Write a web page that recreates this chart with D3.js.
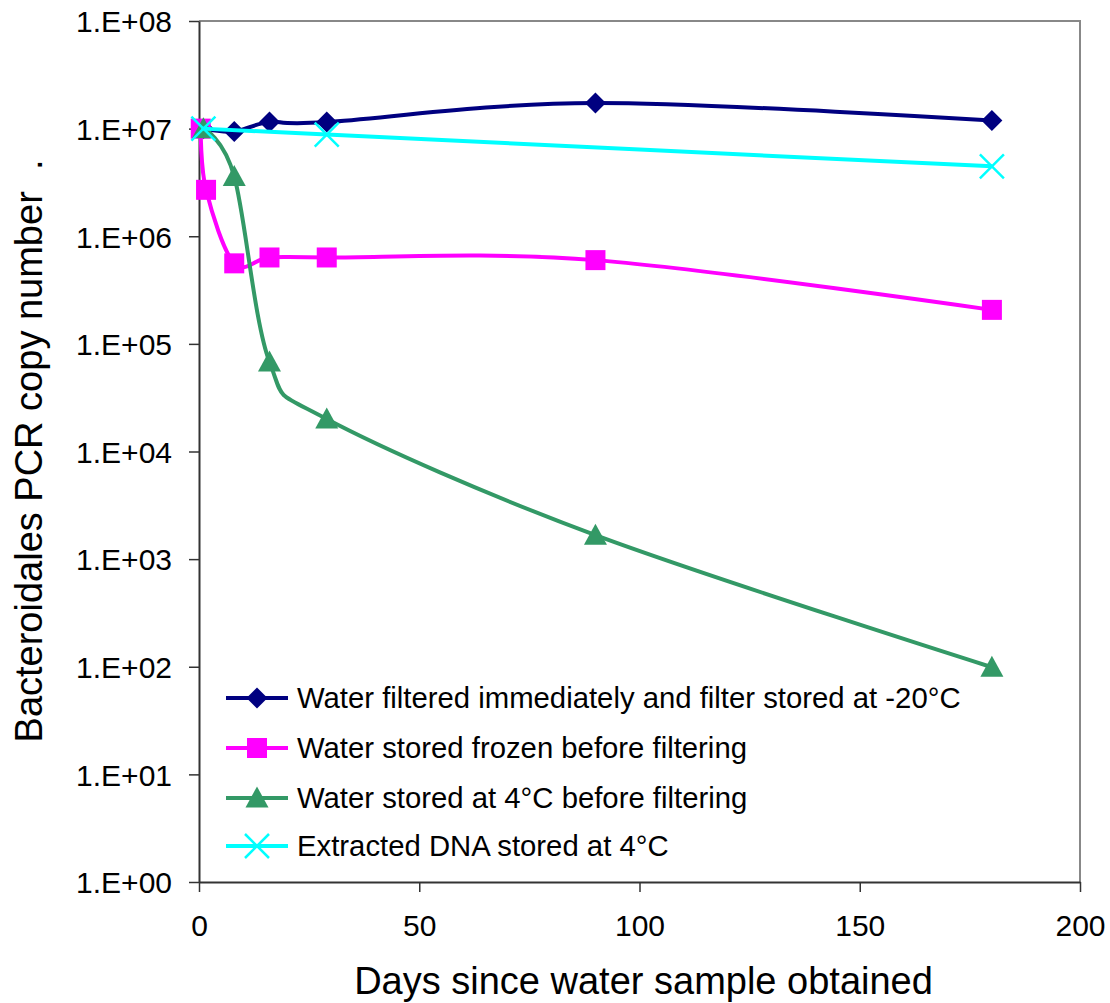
<!DOCTYPE html>
<html>
<head>
<meta charset="utf-8">
<script src="https://cdn.jsdelivr.net/npm/d3@7"></script>
<style>
  html, body { margin: 0; padding: 0; background: #fff; }
  svg { display: block; }
  text { font-family: "Liberation Sans", Arial, sans-serif; fill: #000; }
</style>
</head>
<body>
<svg id="chart" width="1110" height="1003"></svg>
<script>
// ---- data ----
const seriesNames = [
  "Water filtered immediately and filter stored at -20°C",
  "Water stored frozen before filtering",
  "Water stored at 4°C before filtering",
  "Extracted DNA stored at 4°C"
];
const seriesColors = ["#000080", "#FF00FF", "#339966", "#00FFFF"];
const seriesSymbols = ["diamond", "square", "triangle", "x"];

const filteredDays   = [1, 8, 16, 29, 90, 180];
const filteredValues = [1.0e7, 9.4e6, 1.15e7, 1.15e7, 1.73e7, 1.19e7];

const frozenDays   = [0.4, 1.6, 8, 16, 29, 90, 180];
const frozenValues = [1.0e7, 2.7e6, 5.6e5, 6.35e5, 6.35e5, 6.0e5, 2.07e5];

const fourDegDays   = [1, 8, 16, 29, 90, 180];
const fourDegValues = [1.0e7, 3.6e6, 6.8e4, 2.0e4, 1.67e3, 99];

const dnaDays   = [1, 29, 180];
const dnaValues = [1.0e7, 8.8e6, 4.46e6];

const xTicks = [0, 50, 100, 150, 200];
const yTicks = [1, 1e1, 1e2, 1e3, 1e4, 1e5, 1e6, 1e7, 1e8];
const yTickLabels = ["1.E+00","1.E+01","1.E+02","1.E+03","1.E+04","1.E+05","1.E+06","1.E+07","1.E+08"];

const xTitle = "Days since water sample obtained";
const yTitle = "Bacteroidales PCR copy number\u00a0\u00a0.";

// ---- layout ----
const svg = d3.select("#chart");
const L = 199, R = 1080, T = 21, B = 882;

const x = d3.scaleLinear().domain([0, 200]).range([L, R]);
const y = d3.scaleLog().domain([1, 1e8]).range([B, T]);

// plot frame (top/right)
svg.append("path")
  .attr("d", `M${L},${T}H${R}V${B}`)
  .attr("fill", "none").attr("stroke", "#888").attr("stroke-width", 2);

// axes
const xAxis = svg.append("g").attr("transform", `translate(0,${B})`)
  .call(d3.axisBottom(x).tickValues(xTicks).tickSize(10).tickSizeOuter(0).tickPadding(23).tickFormat(d3.format("d")));
const yAxis = svg.append("g").attr("transform", `translate(${L},0)`)
  .call(d3.axisLeft(y).tickValues(yTicks).tickSize(10).tickSizeOuter(0).tickPadding(17)
    .tickFormat((d, i) => yTickLabels[i]));

[xAxis, yAxis].forEach(g => {
  g.select(".domain").attr("stroke", "#333").attr("stroke-width", 2);
  g.selectAll(".tick line").attr("stroke", "#333").attr("stroke-width", 1.5);
  g.selectAll(".tick text").attr("font-size", 30).attr("fill", "#000")
    .style("font-family", '"Liberation Sans", Arial, sans-serif');
});
yAxis.selectAll(".tick text").attr("dy", "0.36em");
xAxis.selectAll(".tick text").attr("dy", "0.71em");

// titles
svg.append("text")
  .attr("x", (L + R) / 2 + 4).attr("y", 994)
  .attr("text-anchor", "middle").attr("font-size", 38)
  .text(xTitle);
svg.append("text")
  .attr("transform", "translate(42,451) rotate(-90)")
  .attr("text-anchor", "middle").attr("font-size", 38)
  .text(yTitle);

// ---- series ----
const series = [
  { days: filteredDays, values: filteredValues },
  { days: frozenDays, values: frozenValues },
  { days: fourDegDays, values: fourDegValues },
  { days: dnaDays, values: dnaValues }
];

const line = d3.line()
  .x(d => x(d[0])).y(d => y(d[1]))
  .curve(d3.curveCardinal.tension(0));

function drawSymbol(g, kind, color, cx, cy) {
  if (kind === "diamond") {
    g.append("path").attr("d", `M${cx},${cy-10.5}L${cx+10.5},${cy}L${cx},${cy+10.5}L${cx-10.5},${cy}Z`)
      .attr("fill", color);
  } else if (kind === "square") {
    g.append("rect").attr("x", cx - 10).attr("y", cy - 10).attr("width", 20).attr("height", 20)
      .attr("fill", color);
  } else if (kind === "triangle") {
    g.append("path").attr("d", `M${cx},${cy-11.5}L${cx+11.5},${cy+9.5}L${cx-11.5},${cy+9.5}Z`)
      .attr("fill", color);
  } else if (kind === "x") {
    g.append("path").attr("d", `M${cx-12},${cy-12}L${cx+12},${cy+12}M${cx+12},${cy-12}L${cx-12},${cy+12}`)
      .attr("stroke", color).attr("stroke-width", 2.5).attr("fill", "none");
  }
}

series.forEach((s, i) => {
  const pts = s.days.map((d, j) => [d, s.values[j]]);
  const g = svg.append("g");
  g.append("path").datum(pts).attr("d", line)
    .attr("fill", "none").attr("stroke", seriesColors[i]).attr("stroke-width", 4)
    .attr("stroke-linejoin", "round");
  pts.forEach(p => drawSymbol(g, seriesSymbols[i], seriesColors[i], x(p[0]), y(p[1])));
});

// ---- legend ----
const legend = svg.append("g");
const legendRowsY = [698, 748, 798, 846];
seriesNames.forEach((name, i) => {
  const cy = legendRowsY[i];
  legend.append("line").attr("x1", 226).attr("x2", 288).attr("y1", cy).attr("y2", cy)
    .attr("stroke", seriesColors[i]).attr("stroke-width", 4);
  drawSymbol(legend, seriesSymbols[i], seriesColors[i], 257, cy);
  legend.append("text").attr("x", 297).attr("y", cy + 10).attr("font-size", 29.3).text(name);
});
</script>
</body>
</html>
